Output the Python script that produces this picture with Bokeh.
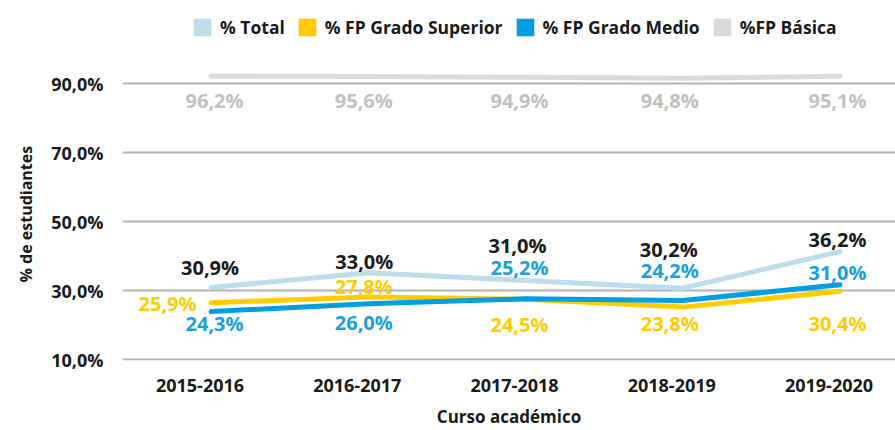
from bokeh.plotting import figure
from bokeh.models import (ColumnDataSource, Range1d, LinearAxis, FixedTicker,
                          Legend, LegendItem, Title)
from bokeh.core.properties import value
from bokeh.embed import file_html
from bokeh.resources import INLINE

# ---------------- data ----------------
courses = ["2015-2016", "2016-2017", "2017-2018", "2018-2019", "2019-2020"]
y_tick_values = [10, 30, 50, 70, 90]
y_tick_labels = ["10,0%", "30,0%", "50,0%", "70,0%", "90,0%"]
x_title = "Curso académico"
y_title = "% de estudiantes"

series_names = ["% Total", "% FP Grado Superior", "% FP Grado Medio", "%FP Básica"]

# line values as drawn in the chart
total_line = [30.9, 35.2, 32.9, 30.7, 41.3]
superior_line = [26.5, 28.1, 27.5, 25.2, 29.8]
medio_line = [23.9, 26.2, 27.6, 27.1, 31.7]
basica_line = [92.2, 92.1, 91.9, 91.6, 92.2]

# data labels as printed
total_labels = ["30,9%", "33,0%", "31,0%", "30,2%", "36,2%"]
superior_labels = ["25,9%", "27,8%", "24,5%", "23,8%", "30,4%"]
medio_labels = ["24,3%", "26,0%", "25,2%", "24,2%", "31,0%"]
basica_labels = ["96,2%", "95,6%", "94,9%", "94,8%", "95,1%"]

# ---------------- styling / layout ----------------
colors = {"total": "#bddcec", "superior": "#ffcc00", "medio": "#009fe3", "basica": "#d9dadb"}
label_colors = {"total": "#1a1a1a", "superior": "#ffcc00", "medio": "#1a9fe0", "basica": "#bfbfbf"}

# label offsets in screen pixels relative to the line point (positive = down)
label_dx = {
    "total": [-1, -4, -8, -14, -2.5],
    "superior": [-43.5, -4.5, -6, -13, -2.5],
    "medio": [3.5, -4.5, -6, -13, -2.5],
    "basica": [3.5, -4.5, -6, -13, -2.5],
}
label_dy = {
    "total": [-20, -11, -35, -38.5, -12],
    "superior": [0.5, -10.7, 25, 16.3, 32.3],
    "medio": [11.5, 19.2, -31, -29.7, -12.3],
    "basica": [24.5, 24, 23.5, 22.5, 24.5],
}

xs = list(range(len(courses)))

p = figure(width=895, height=430,
           x_range=Range1d(-0.563, 4.353), y_range=Range1d(9.71, 114.17),
           output_backend="svg", toolbar_location=None,
           min_border_left=122, min_border_right=0,
           min_border_top=0, min_border_bottom=70)
p.outline_line_color = None
p.xaxis.visible = False
p.xgrid.visible = False

# y axis
p.yaxis.ticker = FixedTicker(ticks=y_tick_values)
p.yaxis.major_label_overrides = {v: t for v, t in zip(y_tick_values, y_tick_labels)}
p.yaxis.axis_line_color = None
p.yaxis.major_tick_line_color = None
p.yaxis.minor_tick_line_color = None
p.yaxis.major_label_standoff = 13
p.yaxis.major_label_text_font = "Open Sans"
p.yaxis.major_label_text_font_style = "bold"
p.yaxis.major_label_text_font_size = "18px"
p.yaxis.major_label_text_color = "#1a1a1a"

# y title as a side title, anchored near the bottom of the data region
p.add_layout(Title(text=y_title, align="left", offset=78, standoff=23,
                   text_font="Open Sans", text_font_style="bold",
                   text_font_size="16px", text_color="#1a1a1a"), "left")

p.ygrid.ticker = FixedTicker(ticks=y_tick_values)
p.ygrid.grid_line_color = "#b3b3b3"
p.ygrid.grid_line_width = 2

# x axis (tick labels slightly shifted like the original)
p.extra_x_ranges = {"ticks": Range1d(-0.493, 4.423)}
xaxis = LinearAxis(x_range_name="ticks", ticker=FixedTicker(ticks=xs),
                   major_label_overrides={i: c for i, c in enumerate(courses)})
xaxis.axis_line_color = None
xaxis.major_tick_line_color = None
xaxis.minor_tick_line_color = None
xaxis.major_label_standoff = 12
xaxis.major_label_text_font = "Open Sans"
xaxis.major_label_text_font_style = "bold"
xaxis.major_label_text_font_size = "18px"
xaxis.major_label_text_color = "#1a1a1a"
xaxis.axis_label = x_title
xaxis.axis_label_text_font = "Open Sans"
xaxis.axis_label_text_font_style = "bold"
xaxis.axis_label_text_font_size = "17px"
xaxis.axis_label_text_color = "#1a1a1a"
xaxis.axis_label_standoff = 10
p.add_layout(xaxis, "below")

series = [
    ("total", total_line, total_labels),
    ("superior", superior_line, superior_labels),
    ("medio", medio_line, medio_labels),
    ("basica", basica_line, basica_labels),
]

for key, vals, labs in series:
    p.line(xs, vals, line_width=5, line_color=colors[key],
           line_cap="round", line_join="round")

for key, vals, labs in series:
    src = ColumnDataSource(dict(x=xs, y=vals, text=labs,
                                dx=label_dx[key], dy=label_dy[key]))
    p.text(x="x", y="y", text="text", x_offset="dx", y_offset="dy", source=src,
           text_font=value("Open Sans"), text_font_style="bold",
           text_font_size="20px", text_color=label_colors[key],
           text_align="center", text_baseline="middle")

# legend with square swatches (swatch renderers hold no visible data)
nan = float("nan")
items = []
for name, key in zip(series_names, ["total", "superior", "medio", "basica"]):
    r = p.quad(left=[nan], right=[nan], top=[nan], bottom=[nan],
               fill_color=colors[key], line_color=None)
    items.append(LegendItem(label=name, renderers=[r]))

legend = Legend(items=items, orientation="horizontal", location=(69, 321),
                margin=0, padding=4, spacing=11, label_standoff=7,
                glyph_width=22, glyph_height=22,
                label_text_font="Open Sans", label_text_font_style="bold",
                label_text_font_size="17.5px", label_text_color="#1a1a1a",
                border_line_color=None, background_fill_alpha=0)
p.add_layout(legend, "center")

open("out.html", "w").write(file_html(p, INLINE))
